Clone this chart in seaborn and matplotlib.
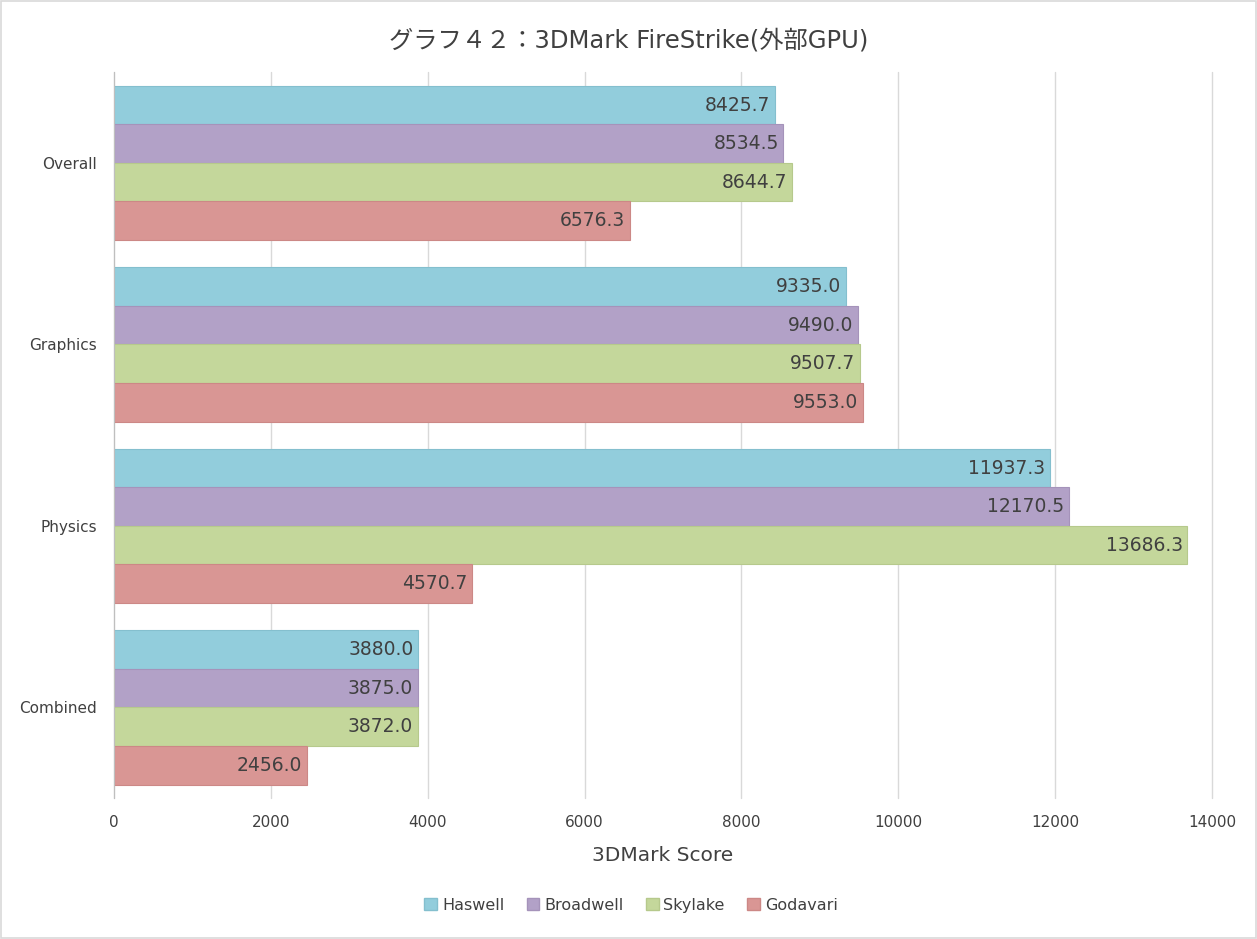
import numpy as np
import pandas as pd
import matplotlib
matplotlib.use('Agg')
import matplotlib.pyplot as plt
import seaborn as sns

# %% ── Data ─────────────────────────────────────────────
tests = ['Overall', 'Graphics', 'Physics', 'Combined']
cpus = ['Haswell', 'Broadwell', 'Skylake', 'Godavari']
haswell = [8425.7, 9335.0, 11937.3, 3880.0]
broadwell = [8534.5, 9490.0, 12170.5, 3875.0]
skylake = [8644.7, 9507.7, 13686.3, 3872.0]
godavari = [6576.3, 9553.0, 4570.7, 2456.0]
colors = ['#92CDDC', '#B2A1C7', '#C4D79B', '#D99694']
edges = ['#84BFCE', '#A593BA', '#B6C98C', '#CC8886']

df = pd.DataFrame({
    'Test': tests * 4,
    'CPU': sum([[c] * 4 for c in cpus], []),
    'Score': haswell + broadwell + skylake + godavari,
})

# %% ── Style ────────────────────────────────────────────
sns.set_style('white')
plt.rcParams['font.family'] = ['DejaVu Sans', 'Noto Sans CJK JP']
txt = '#404040'

fig = plt.figure(figsize=(12.57, 9.39), dpi=100)
ax = fig.add_axes([0.0907, 0.150, 0.8735, 0.7732])

sns.barplot(data=df, y='Test', x='Score', hue='CPU', order=tests,
            hue_order=cpus, palette=colors, orient='h', width=0.85,
            saturation=1, ax=ax, legend=False)

# bar edges + value labels
for cont, ec in zip(ax.containers, edges):
    for p in cont.patches:
        p.set_edgecolor(ec)
        p.set_linewidth(0.8)
        w = p.get_width()
        y = p.get_y() + p.get_height() / 2
        ax.text(w - 60, y, f'{w:.1f}', ha='right', va='center',
                fontsize=13.5, color=txt)

ax.set_xlim(0, 14000)
ax.set_ylim(3.5, -0.5)
ax.set_xticks(np.arange(0, 14001, 2000))
ax.xaxis.grid(True, color='#D9D9D9', linewidth=1)
for gl in ax.get_xgridlines():
    gl.set_clip_on(False)
ax.set_axisbelow(True)
for s in ['top', 'right', 'bottom']:
    ax.spines[s].set_visible(False)
ax.spines['left'].set_color('#BFBFBF')
ax.tick_params(axis='both', length=0, labelsize=11, labelcolor=txt)
ax.tick_params(axis='x', pad=12)
ax.tick_params(axis='y', pad=12)
ax.set_ylabel('')
ax.set_xlabel('3DMark Score', fontsize=14.5, color=txt, labelpad=12)

fig.text(0.5, 0.957, 'グラフ４２：3DMark FireStrike(外部GPU)', ha='center',
         va='center', fontsize=17.5, color=txt)

handles = [plt.Rectangle((0, 0), 1, 1, fc=c, ec=e) for c, e in zip(colors, edges)]
fig.legend(handles, cpus, loc='center', bbox_to_anchor=(0.502, 0.036), ncol=4,
           frameon=False, fontsize=11.5, handlelength=0.8, handleheight=0.8,
           handletextpad=0.3, columnspacing=1.4, labelcolor=txt)

# figure frame
fig.patches.append(plt.Rectangle((0.001, 0.001), 0.998, 0.998, transform=fig.transFigure,
                                 fill=False, ec='#D9D9D9', lw=1.2))

plt.savefig('out.png', dpi=100)
